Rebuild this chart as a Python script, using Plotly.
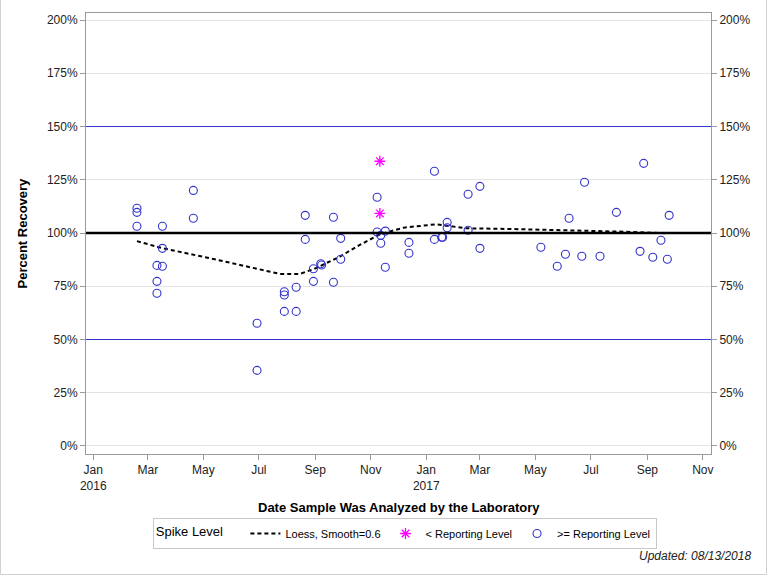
import plotly.graph_objects as go

# ---- data ----
ge_dates = [
    "2016-02-18", "2016-02-18", "2016-02-18", "2016-03-17", "2016-04-20", "2016-04-20",
    "2016-03-17", "2016-03-11", "2016-03-17", "2016-03-11", "2016-03-11",
    "2016-06-29", "2016-06-29", "2016-07-29", "2016-07-29", "2016-07-29",
    "2016-08-11", "2016-08-11", "2016-08-21", "2016-08-21", "2016-08-30", "2016-08-30",
    "2016-09-07", "2016-09-08", "2016-09-21", "2016-09-21", "2016-09-29", "2016-09-29",
    "2016-11-08", "2016-11-08", "2016-11-12", "2016-11-17", "2016-11-12", "2016-11-17",
    "2016-12-13", "2016-12-13", "2017-01-10", "2017-01-10", "2017-01-18", "2017-01-19",
    "2017-01-24", "2017-01-24", "2017-02-16", "2017-02-16", "2017-03-01", "2017-03-01",
    "2017-05-07", "2017-05-25", "2017-06-03", "2017-06-07", "2017-06-24", "2017-06-21",
    "2017-07-11", "2017-07-29", "2017-08-28", "2017-08-24", "2017-09-07", "2017-09-16",
    "2017-09-25", "2017-09-23",
]
ge_pct = [
    111.6, 109.7, 103.2, 103.2, 120.0, 106.9,
    92.8, 84.8, 84.4, 77.3, 71.7,
    57.6, 35.5, 72.4, 70.9, 63.2,
    63.2, 74.5, 108.3, 97.0, 83.2, 77.3,
    85.6, 85.0, 107.4, 76.9, 97.5, 87.7,
    116.8, 100.5, 98.9, 100.9, 95.2, 83.9,
    95.6, 90.5, 129.0, 97.0, 98.0, 98.0,
    105.0, 102.5, 118.2, 101.3, 121.9, 92.8,
    93.3, 84.4, 90.0, 106.9, 123.8, 89.1,
    89.1, 109.7, 132.7, 91.4, 88.6, 96.6,
    108.3, 87.7,
]
lt_dates = ["2016-11-11", "2016-11-11"]
lt_pct = [133.7, 109.2]

loess_dates = [
    "2016-02-18", "2016-03-16", "2016-05-12", "2016-07-24", "2016-08-15", "2016-08-30",
    "2016-09-28", "2016-10-20", "2016-11-11", "2016-12-07", "2017-01-12", "2017-02-14",
    "2017-04-03", "2017-06-04", "2017-08-16", "2017-09-21",
]
loess_pct = [
    96.2, 93.0, 87.8, 80.8, 80.8, 83.0,
    88.9, 94.4, 99.4, 102.5, 104.1, 102.2,
    101.9, 101.4, 100.5, 99.9,
]

x_tickvals = ["2016-01-01", "2016-03-01", "2016-05-01", "2016-07-01", "2016-09-01", "2016-11-01",
              "2017-01-01", "2017-03-01", "2017-05-01", "2017-07-01", "2017-09-01", "2017-11-01"]
x_ticktext = ["Jan<br>2016", "Mar", "May", "Jul", "Sep", "Nov",
              "Jan<br>2017", "Mar", "May", "Jul", "Sep", "Nov"]
y_tickvals = [0, 25, 50, 75, 100, 125, 150, 175, 200]
y_ticktext = ["0%", "25%", "50%", "75%", "100%", "125%", "150%", "175%", "200%"]
ref_levels = [50, 100, 150]

BLUE = "rgb(51,51,204)"
FONT = "Liberation Sans, Arial, sans-serif"
y_range = [-3.76, 203.3]

fig = go.Figure()
fig.add_trace(go.Scatter(x=loess_dates, y=loess_pct, mode="lines",
                         line=dict(color="black", width=2, dash="4px,3px"),
                         name="Loess, Smooth=0.6"))
fig.add_trace(go.Scatter(x=lt_dates, y=lt_pct, mode="markers",
                         marker=dict(symbol="asterisk-open", size=9, color="magenta",
                                     line=dict(color="magenta", width=1.3)),
                         name="< Reporting Level"))
fig.add_trace(go.Scatter(x=ge_dates, y=ge_pct, mode="markers",
                         marker=dict(symbol="circle-open", size=8, color=BLUE,
                                     line=dict(color=BLUE, width=1.1)),
                         name=">= Reporting Level"))
# invisible trace for right axis
fig.add_trace(go.Scatter(x=[ge_dates[0]], y=[ge_pct[0]], yaxis="y2", mode="markers",
                         marker=dict(opacity=0), showlegend=False, hoverinfo="skip"))

shapes = [
    dict(type="line", xref="paper", yref="y", x0=0, x1=1, y0=ref_levels[1], y1=ref_levels[1],
         line=dict(color="black", width=2.5), layer="above"),
    dict(type="line", xref="paper", yref="y", x0=0, x1=1, y0=ref_levels[2], y1=ref_levels[2],
         line=dict(color=BLUE, width=1), layer="above"),
    dict(type="line", xref="paper", yref="y", x0=0, x1=1, y0=ref_levels[0], y1=ref_levels[0],
         line=dict(color=BLUE, width=1), layer="above"),
    # outer image border
    dict(type="line", xref="paper", yref="paper", x0=-0.1368, x1=-0.1368, y0=-0.2732, y1=1.04,
         line=dict(color="#d0d0d0", width=1)),
    dict(type="line", xref="paper", yref="paper", x0=1.0888, x1=1.0888, y0=-0.2732, y1=1.04,
         line=dict(color="#d0d0d0", width=1)),
    dict(type="line", xref="paper", yref="paper", x0=-0.1368, x1=1.0888, y0=-0.2732, y1=-0.2732,
         line=dict(color="#d0d0d0", width=1)),
]

axis_common = dict(showline=True, linecolor="#9a9a9a", linewidth=1,
                   ticks="outside", ticklen=5, tickcolor="#9a9a9a",
                   tickfont=dict(family=FONT, size=12, color="#222"), zeroline=False)

fig.update_layout(
    width=768, height=576,
    margin=dict(l=86, r=57, t=13, b=122),
    paper_bgcolor="white", plot_bgcolor="white",
    font=dict(family=FONT, size=12, color="black"),
    showlegend=True,
    xaxis=dict(**axis_common, type="date", range=["2015-12-24", "2017-11-10"],
               tickvals=x_tickvals, ticktext=x_ticktext, showgrid=False, mirror=True),
    yaxis=dict(**axis_common, range=y_range, tickvals=y_tickvals, ticktext=y_ticktext,
               showgrid=True, gridcolor="#e3e3e3", gridwidth=1, mirror=True),
    yaxis2=dict(**axis_common, range=y_range, tickvals=y_tickvals, ticktext=y_ticktext,
                overlaying="y", side="right", showgrid=False),
    shapes=shapes,
    legend=dict(orientation="h", x=0.51, xanchor="center", y=(454 - 518) / 441, yanchor="top",
                bordercolor="#c8c8c8", borderwidth=1, bgcolor="white",
                title=dict(text="Spike Level    ", font=dict(size=13, family=FONT)),
                font=dict(size=11, family=FONT), itemwidth=30, tracegroupgap=0),
    annotations=[
        dict(text="<b>Date Sample Was Analyzed by the Laboratory</b>", xref="paper", yref="paper",
             x=0.5, y=(454 - 508) / 441, xanchor="center", yanchor="middle", showarrow=False,
             font=dict(size=13, family=FONT, color="black")),
        dict(text="<b>Percent Recovery</b>", xref="paper", yref="paper",
             x=(22 - 86) / 625, y=0.5, xanchor="center", yanchor="middle", showarrow=False,
             textangle=-90, font=dict(size=13, family=FONT, color="black")),
        dict(text="<i>Updated: 08/13/2018</i>", xref="paper", yref="paper",
             x=(753 - 86) / 625, y=(454 - 556) / 441, xanchor="right", yanchor="middle",
             showarrow=False, font=dict(size=12, family=FONT, color="#222")),
    ],
)

fig.write_html("out.html")
